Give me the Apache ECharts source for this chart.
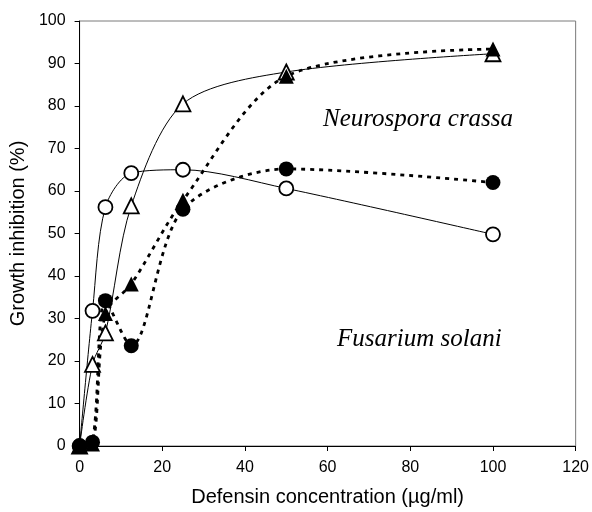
<!DOCTYPE html>
<html>
<head>
<meta charset="utf-8">
<script src="https://cdn.jsdelivr.net/npm/echarts@6/dist/echarts.min.js"></script>
<style>
html,body{margin:0;padding:0;background:#fff;}
#chart{width:592px;height:512px;}
</style>
</head>
<body>
<div id="chart"></div>
<script>
var concentrations = [0, 3.125, 6.25, 12.5, 25, 50, 100];
var openCircle   = [0, 31.8, 56.2, 64.2, 65.0, 60.6, 49.8];
var openTriangle = [0, 19.2, 26.6, 56.5, 80.5, 88.0, 92.3];
var filledCircle = [0, 0.9, 34.2, 23.6, 55.7, 65.2, 62.0];
var filledTriangle = [0, 0.5, 31.2, 38.1, 57.8, 87.0, 93.4];
var xTicks = [0, 20, 40, 60, 80, 100, 120];
var yTicks = [0, 10, 20, 30, 40, 50, 60, 70, 80, 90, 100];
var labelNeurospora = 'Neurospora crassa';
var labelFusarium = 'Fusarium solani';

function pairs(vals){ return concentrations.map(function(x,i){ return [x, vals[i]]; }); }

var chart = echarts.init(document.getElementById('chart'));
var sans = 'Liberation Sans, Arial, sans-serif';
var serif = 'Liberation Serif, Times New Roman, serif';

function lineSeries(name, vals, symbol, filled, dotted, size){
  return {
    name: name, type: 'line', data: pairs(vals),
    smooth: 0.3,
    symbol: symbol, symbolSize: size, showSymbol: true,
    lineStyle: dotted ? {color:'#000', width:2.8, type:[4,5], cap:'butt'} : {color:'#000', width:1, type:'solid'},
    itemStyle: filled ? {color:'#000', borderColor:'#000', borderWidth:0} : {color:'#fff', borderColor:'#000', borderWidth:1.8},
    emphasis: {disabled: true},
    animation: false
  };
}

chart.setOption({
  animation: false,
  grid: {left:79, right:15, top:21, bottom:62, show:true, borderColor:'#7a7a7a', borderWidth:1, backgroundColor:'transparent'},
  xAxis: {
    type:'value', min:xTicks[0], max:xTicks[xTicks.length-1], interval:20,
    name:'Defensin concentration (µg/ml)', nameLocation:'middle', nameGap:41,
    nameTextStyle:{fontFamily:sans, fontSize:20, color:'#000'},
    axisLine:{show:true, lineStyle:{color:'#000', width:1}},
    axisTick:{show:true, inside:false, length:5, lineStyle:{color:'#000'}},
    axisLabel:{fontFamily:sans, fontSize:16, color:'#000', margin:14},
    splitLine:{show:false}
  },
  yAxis: {
    type:'value', min:yTicks[0], max:yTicks[yTicks.length-1], interval:10,
    name:'Growth inhibition (%)', nameLocation:'middle', nameGap:47,
    nameTextStyle:{fontFamily:sans, fontSize:20, color:'#000'},
    axisLine:{show:true, lineStyle:{color:'#000', width:1}},
    axisTick:{show:true, inside:false, length:5, lineStyle:{color:'#000'}},
    axisLabel:{fontFamily:sans, fontSize:16, color:'#000', margin:14},
    splitLine:{show:false}
  },
  graphic: [
    {type:'text', left:323, top:107, style:{text:labelNeurospora, font:'italic 25px ' + serif, fill:'#000'}},
    {type:'text', left:337, top:327, style:{text:labelFusarium, font:'italic 25px ' + serif, fill:'#000'}}
  ],
  series: [
    lineSeries('openCircle', openCircle, 'circle', false, false, 14),
    lineSeries('openTriangle', openTriangle, 'triangle', false, false, 15),
    lineSeries('filledCircle', filledCircle, 'circle', true, true, 15),
    lineSeries('filledTriangle', filledTriangle, 'triangle', true, true, 15)
  ]
});
</script>
</body>
</html>
